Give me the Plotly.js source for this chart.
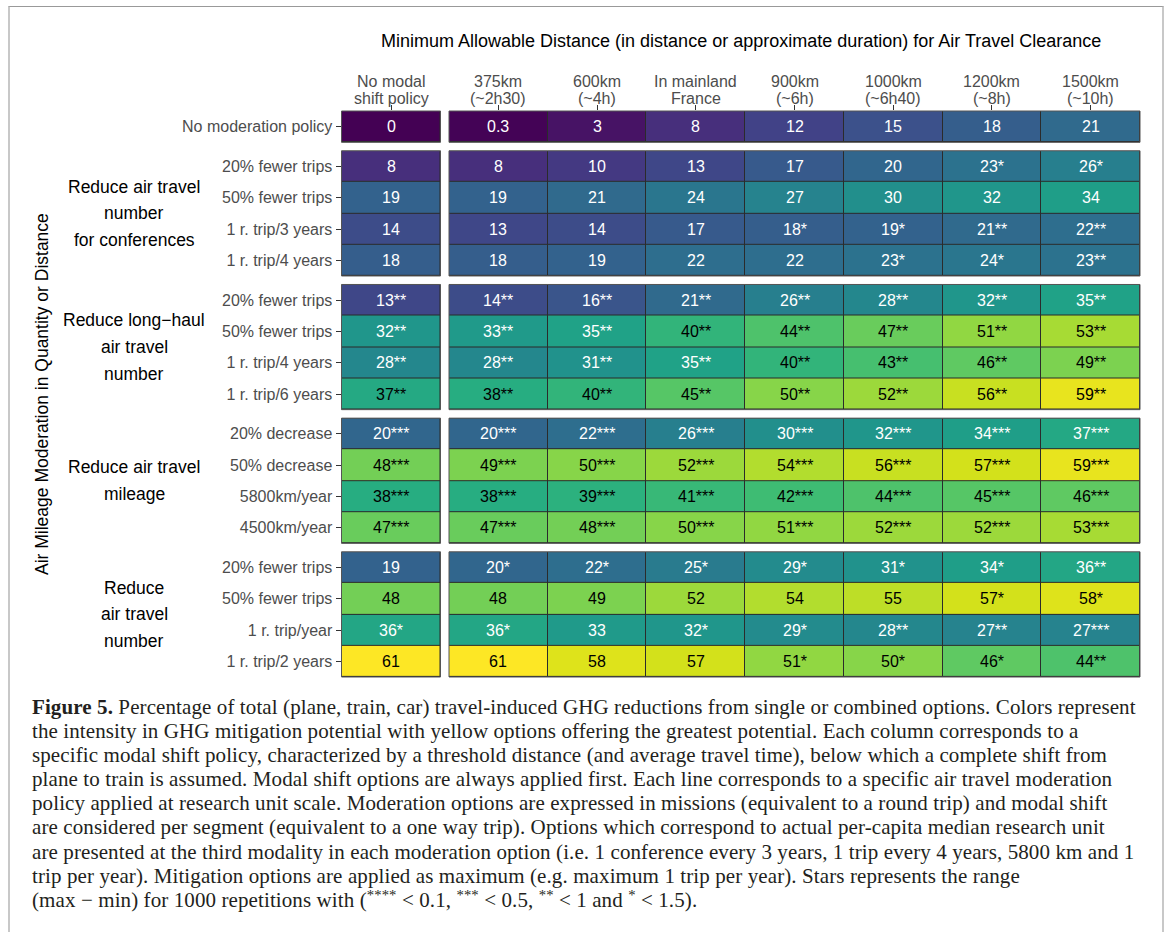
<!DOCTYPE html>
<html><head><meta charset="utf-8">
<script src="https://cdn.plot.ly/plotly-3.0.1.min.js"></script>
<style>
html,body{margin:0;padding:0;background:#fff;}
#chart{position:absolute;left:0;top:0;width:1168px;height:932px;}
#frame{position:absolute;left:8px;top:6px;width:1152px;height:1000px;border-top:1px solid #999;border-left:2px solid #c8c8c8;border-right:2px solid #c8c8c8;pointer-events:none;z-index:5;}
#caption{position:absolute;left:32px;top:695px;font-family:'Liberation Serif','Times New Roman',serif;font-size:21px;letter-spacing:0.1px;line-height:24.1px;color:#231f20;white-space:nowrap;z-index:4;}
#caption b{font-weight:bold;}
#caption sup{font-size:0.7em;line-height:0;vertical-align:0.45em;}
</style></head><body>
<div id="chart"></div>
<div id="frame"></div>
<div id="caption"></div>
<script>
// ---------------- data ----------------
const columnLabels = ["No modal<br>shift policy","375km<br>(~2h30)","600km<br>(~4h)","In mainland<br>France","900km<br>(~6h)","1000km<br>(~6h40)","1200km<br>(~8h)","1500km<br>(~10h)"];

const groupName0 = [];
const rowLabels0 = ["No moderation policy"];
const values0 = [[0,0.3,3,8,12,15,18,21]];
const stars0  = [[0,0,0,0,0,0,0,0]];

const groupName1 = ["Reduce air travel","number","for conferences"];
const rowLabels1 = ["20% fewer trips","50% fewer trips","1 r. trip/3 years","1 r. trip/4 years"];
const values1 = [[8,8,10,13,17,20,23,26],[19,19,21,24,27,30,32,34],[14,13,14,17,18,19,21,22],[18,18,19,22,22,23,24,23]];
const stars1  = [[0,0,0,0,0,0,1,1],[0,0,0,0,0,0,0,0],[0,0,0,0,1,1,2,2],[0,0,0,0,0,1,1,2]];

const groupName2 = ["Reduce long\u2212haul","air travel","number"];
const rowLabels2 = ["20% fewer trips","50% fewer trips","1 r. trip/4 years","1 r. trip/6 years"];
const values2 = [[13,14,16,21,26,28,32,35],[32,33,35,40,44,47,51,53],[28,28,31,35,40,43,46,49],[37,38,40,45,50,52,56,59]];
const stars2  = [[2,2,2,2,2,2,2,2],[2,2,2,2,2,2,2,2],[2,2,2,2,2,2,2,2],[2,2,2,2,2,2,2,2]];

const groupName3 = ["Reduce air travel","mileage"];
const rowLabels3 = ["20% decrease","50% decrease","5800km/year","4500km/year"];
const values3 = [[20,20,22,26,30,32,34,36.6],[48,49,50,52,54,56,57,59],[38,38,39,41,42,44,45,46],[47,47,48,50,51,52,52,53]];
const stars3  = [[3,3,3,3,3,3,3,3],[3,3,3,3,3,3,3,3],[3,3,3,3,3,3,3,3],[3,3,3,3,3,3,3,3]];

const groupName4 = ["Reduce","air travel","number"];
const rowLabels4 = ["20% fewer trips","50% fewer trips","1 r. trip/year","1 r. trip/2 years"];
const values4 = [[19,20,22,25,29,31,34,36],[48,48,49,52,54,55,57,58],[36,36,33,32,29,28,27,27],[61,61,58,57,51,50,46,44]];
const stars4  = [[0,1,1,1,1,1,1,2],[0,0,0,0,0,0,1,1],[1,1,0,1,1,2,2,3],[0,0,0,0,1,1,1,2]];

const xTitle = "Minimum Allowable Distance (in distance or approximate duration) for Air Travel Clearance";
const yTitle = "Air Mileage Moderation in Quantity or Distance";

const captionLines = [
 "<b>Figure 5.</b> Percentage of total (plane, train, car) travel-induced GHG reductions from single or combined options. Colors represent",
 "the intensity in GHG mitigation potential with yellow options offering the greatest potential. Each column corresponds to a",
 "specific modal shift policy, characterized by a threshold distance (and average travel time), below which a complete shift from",
 "plane to train is assumed. Modal shift options are always applied first. Each line corresponds to a specific air travel moderation",
 "policy applied at research unit scale. Moderation options are expressed in missions (equivalent to a round trip) and modal shift",
 "are considered per segment (equivalent to a one way trip). Options which correspond to actual per-capita median research unit",
 "are presented at the third modality in each moderation option (i.e. 1 conference every 3 years, 1 trip every 4 years, 5800 km and 1",
 "trip per year). Mitigation options are applied as maximum (e.g. maximum 1 trip per year). Stars represents the range",
 "(max \u2212 min) for 1000 repetitions with (<sup>****</sup> &lt; 0.1, <sup>***</sup> &lt; 0.5, <sup>**</sup> &lt; 1 and <sup>*</sup> &lt; 1.5)."
];

// ---------------- layout ----------------
const W = 1168, H = 932;
const SANS = "'Liberation Sans', Arial, sans-serif";
const TOP = 111, BOTTOM = 677, GAP = 8.5;
const groups = [
 {name: groupName0, rows: rowLabels0, values: values0, stars: stars0},
 {name: groupName1, rows: rowLabels1, values: values1, stars: stars1},
 {name: groupName2, rows: rowLabels2, values: values2, stars: stars2},
 {name: groupName3, rows: rowLabels3, values: values3, stars: stars3},
 {name: groupName4, rows: rowLabels4, values: values4, stars: stars4}
];
const totalRows = groups.reduce((s,g)=>s+g.rows.length,0);
const rowH = (BOTTOM - TOP - GAP*(groups.length-1)) / totalRows;

const axisCommon = {
  showgrid:false, zeroline:false, showline:false,
  ticks:'outside', ticklen:5, tickwidth:1, tickcolor:'#333', fixedrange:true,
  tickfont:{family:SANS, size:16, color:'#4d4d4d'}
};

const colIdxA = [0], colIdxB = [1,2,3,4,5,6,7];
const layout = {
  width:W, height:H, margin:{l:0,r:0,t:0,b:0},
  paper_bgcolor:'rgba(0,0,0,0)', plot_bgcolor:'#2b2b2b',
  showlegend:false, font:{family:SANS},
  xaxis: Object.assign({}, axisCommon, {domain:[341.5/W, 440.5/W], range:[-0.5,0.5], tickvals:colIdxA, showticklabels:false, side:'top', anchor:'y'}),
  xaxis2: Object.assign({}, axisCommon, {domain:[449/W, 1140/W], range:[0.5,7.5], tickvals:colIdxB, showticklabels:false, side:'top', anchor:'y'}),
  annotations:[], shapes:[]
};
const traces = [];

function fmt(v){ return (v>0 && v<1) ? String(v) : String(Math.round(v)); }

// column (top) tick labels, one annotation per text line
const colLineY = [81, 98.5];
columnLabels.forEach((lab, c) => {
  lab.split('<br>').forEach((line, k) => {
    layout.annotations.push({
      xref: c===0 ? 'x' : 'x2', yref:'paper', x:c, y:1-colLineY[k]/H, xanchor:'center', yanchor:'middle',
      text:line, showarrow:false, font:{family:SANS, size:16, color:'#4d4d4d'}
    });
  });
});

let cursor = TOP;
groups.forEach((g, gi) => {
  const n = g.rows.length;
  const y0 = cursor, y1 = cursor + n*rowH;
  cursor = y1 + GAP;
  const yid = gi===0 ? 'y' : 'y'+(gi+1);
  const yname = gi===0 ? 'yaxis' : 'yaxis'+(gi+1);
  const rIdx = g.rows.map((_,k)=>k);
  layout[yname] = Object.assign({}, axisCommon, {
    domain:[1-y1/H, 1-y0/H], range:[n-0.5,-0.5], tickvals:rIdx, ticktext:g.rows, anchor:'x'
  });
  const base = {type:'heatmap', colorscale:'Viridis', zmin:0, zmax:61, showscale:false, xgap:1, ygap:1, hoverinfo:'skip', yaxis:yid};
  traces.push(Object.assign({}, base, {x:colIdxA, y:rIdx, z:g.values.map(r=>r.slice(0,1)), xaxis:'x'}));
  traces.push(Object.assign({}, base, {x:colIdxB, y:rIdx, z:g.values.map(r=>r.slice(1)), xaxis:'x2'}));
  // panel borders
  ['x','x2'].forEach(xa => {
    layout.shapes.push({type:'rect', xref:xa+' domain', yref:yid+' domain', x0:0, x1:1, y0:0, y1:1,
      line:{color:'#555', width:1}, fillcolor:'rgba(0,0,0,0)', layer:'above'});
  });
  g.values.forEach((row, r) => {
    row.forEach((v, c) => {
      layout.annotations.push({
        xref: c===0 ? 'x' : 'x2', yref: yid, x: c, y: r,
        text: fmt(v) + '*'.repeat(g.stars[r][c]), showarrow:false,
        font:{family:SANS, size:16, color: v < 37 ? '#ffffff' : '#000000'}
      });
    });
  });
  const L = g.name.length;
  const center = (y0+y1)/2;
  g.name.forEach((line, k) => {
    layout.annotations.push({
      xref:'paper', yref:'paper', x:134/W, y:1-center/H, xanchor:'center', yanchor:'middle',
      yshift: -(k-(L-1)/2)*26.7, text: line, showarrow:false,
      font:{family:SANS, size:17.5, color:'#000'}
    });
  });
});

layout.annotations.push({xref:'paper', yref:'paper', x:740.5/W, y:1-41/H, xanchor:'center', yanchor:'middle',
  text:xTitle, showarrow:false, font:{family:SANS, size:18, color:'#000'}});
layout.annotations.push({xref:'paper', yref:'paper', x:42/W, y:1-394/H, xanchor:'center', yanchor:'middle',
  text:yTitle, textangle:-90, showarrow:false, font:{family:SANS, size:17.5, color:'#000'}});

Plotly.newPlot('chart', traces, layout, {displayModeBar:false, staticPlot:true});

document.getElementById('caption').innerHTML = captionLines.map(l=>'<div>'+l+'</div>').join('');
</script>
</body></html>
